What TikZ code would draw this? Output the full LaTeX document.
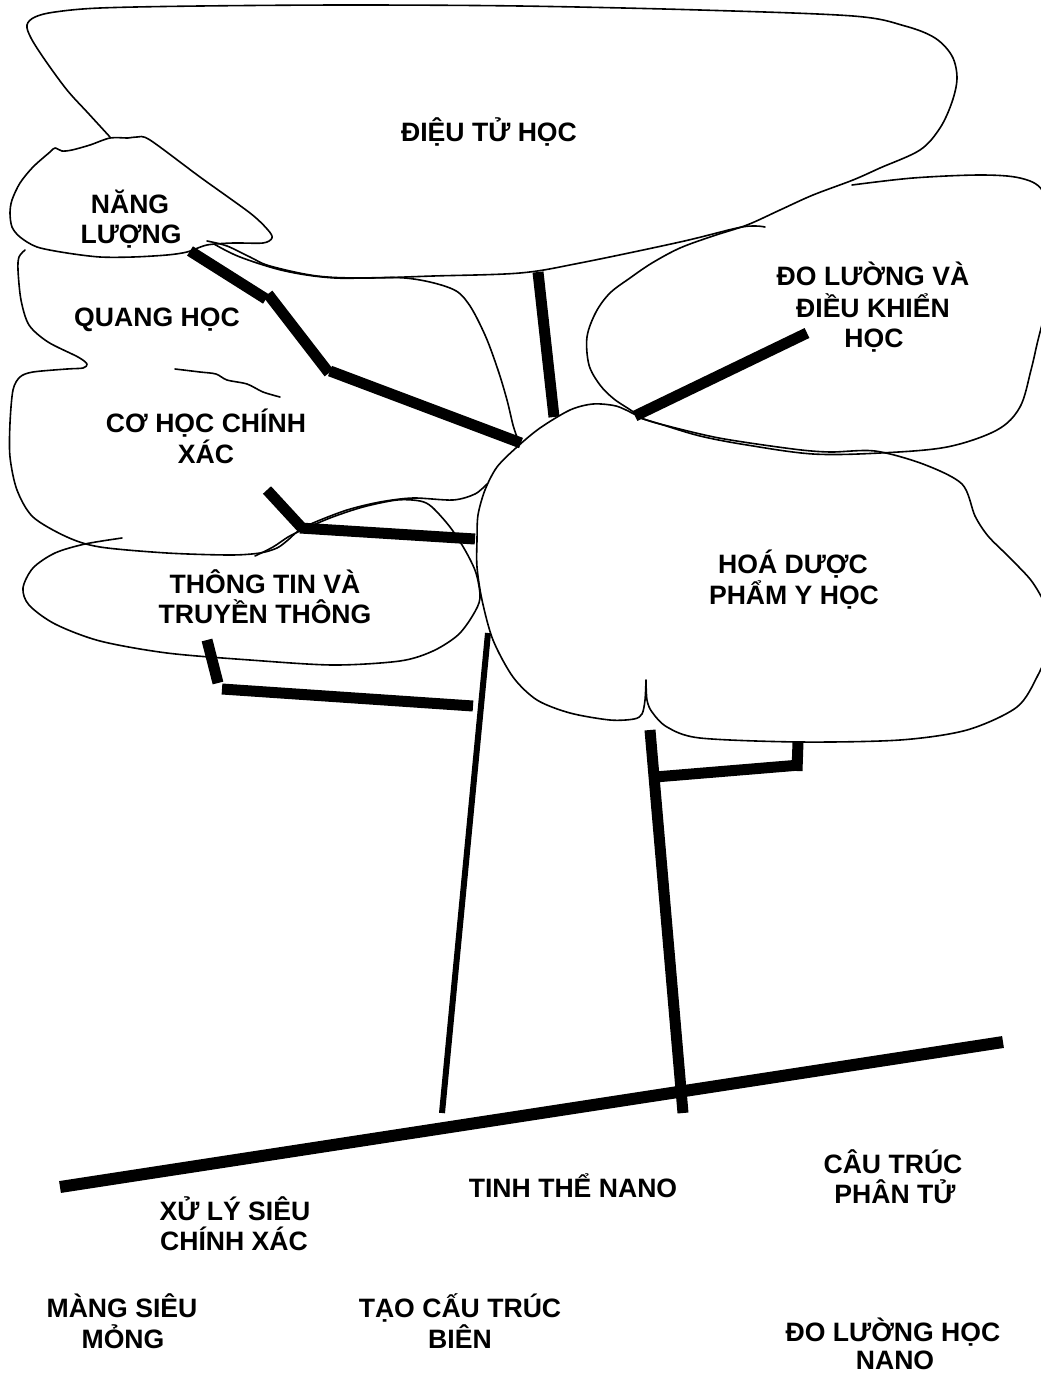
\documentclass[tikz,border=0pt]{standalone}
\usepackage{fontspec}
\setmainfont{Liberation Sans}
\begin{document}
\begin{tikzpicture}[x=1pt,y=-1pt,
  outline/.style={line width=1.6pt, line join=round, line cap=round},
  branch/.style={line width=11pt},
  trunkthin/.style={line width=6pt},
  groundline/.style={line width=12pt},
  lbl/.style={font=\bfseries\fontsize{26.6}{31}\selectfont, inner sep=0pt, anchor=base}]
\useasboundingbox (0,0) rectangle (1041,1374);
\fill[white] (0,0) rectangle (1041,1374);
\clip (0,0) rectangle (1041,1374);

% big cloud (DIEU TU HOC) outline flowing into left edge of DO LUONG cloud
\draw[outline] plot[smooth, tension=0.55] coordinates {(110,137) (88,113) (67,90) (45,60) (31,38) (27,25) (35,17) (55,12) (100,8) (200,6) (350,5) (520,6) (700,10) (853,16) (905,26) (935,38) (952,56) (957,78) (952,102) (940,128) (920,150) (880,168) (853,180) (813,195) (780,210) (747,225) (713,236) (680,248) (652,263) (630,278) (610,293) (596,312) (587,337) (589,365) (600,385) (614,399) (632,411) (640,418)};
% bottom edge of big cloud
\draw[outline] plot[smooth, tension=0.55] coordinates {(207,241) (227,246) (250,257) (270,266) (317,276) (367,278) (433,276) (520,273) (580,263) (680,242) (737,228) (755,226) (765,227)};
% DO LUONG cloud right part
\draw[outline] plot[smooth, tension=0.55] coordinates {(852,185) (913,178) (980,175) (1020,178) (1042,190) (1052,225) (1054,270) (1047,305) (1038,340) (1031,370) (1020,407) (997,430) (947,447) (880,453) (813,454) (747,445) (700,436) (660,424) (640,418)};
% NANG LUONG cloud
\draw[outline] plot[smooth cycle, tension=0.5] coordinates {(10,213) (12,227) (20,237) (37,247) (67,253) (100,257) (133,257) (167,255) (187,252) (207,245) (233,243) (263,243) (272,238) (268,230) (250,213) (200,177) (150,140) (137,137) (128,138) (110,138) (90,145) (72,150) (62,151) (55,148) (50,152) (33,167) (20,183) (12,200)};
% QUANG HOC right edge
\draw[outline] plot[smooth, tension=0.55] coordinates {(214,244) (240,257) (285,271) (335,278) (405,278) (450,288) (468,303) (485,335) (498,370) (507,400) (513,425) (517,437)};
% QUANG HOC left + CO HOC outline
\draw[outline] plot[smooth, tension=0.5] coordinates {(25,250) (19,257) (18,270) (21,300) (29,325) (48,342) (78,357) (87,364) (83,368) (67,369) (33,372) (20,377) (13,390) (10,423) (10,457) (17,490) (33,517) (67,537) (100,547) (167,553) (230,555) (260,553) (277,548) (288,540) (297,532) (313,523) (347,510) (380,502) (413,498) (453,500) (475,494) (487,484)};
% THONG TIN cloud
\draw[outline] plot[smooth, tension=0.5] coordinates {(255,556) (273,547) (288,537) (300,531) (330,518) (363,507) (397,500) (420,501) (432,507) (450,527) (465,550) (476,573) (480,598) (473,615) (458,635) (433,651) (400,661) (333,665) (250,660) (167,653) (100,641) (55,624) (29,605) (23,588) (33,568) (55,553) (85,544) (122,538)};
% stray stroke in CO HOC
\draw[outline] plot[smooth, tension=0.5] coordinates {(175,369) (200,372) (216,374) (227,380) (247,384) (263,392) (280,397)};
% HOA DUOC cloud
\draw[outline] plot[smooth, tension=0.5] coordinates {(646,680) (647,700) (652,712) (667,727) (700,738) (800,742) (900,740) (967,730) (1017,707) (1038,675) (1050,645) (1052,620) (1042,598) (1030,579) (1008,556) (988,536) (975,516) (962,484) (923,464) (875,451) (830,452) (793,449) (719,438) (660,424) (641,418) (634,414) (616,406) (593,404) (570,410) (540,428) (517,447) (497,467) (485,490) (478,515) (477,540) (477,567) (482,600) (493,640) (513,677) (537,700) (570,713) (610,720) (634,719) (642,714) (645,700) (646,680)};

% branch coordinates
\coordinate (a1) at (190,251); \coordinate (a2) at (266,299);
\coordinate (b1) at (268,294); \coordinate (b2) at (329,373);
\coordinate (c1) at (330,371); \coordinate (c2) at (521,443);
\coordinate (d1) at (538,272); \coordinate (d2) at (554,417);
\coordinate (e1) at (635,416); \coordinate (e2) at (807,333);
\coordinate (f1) at (267,490); \coordinate (f2) at (302,528);
\coordinate (g1) at (300,528); \coordinate (g2) at (475,539);
\coordinate (h1) at (207,640); \coordinate (h2) at (218,683);
\coordinate (i1) at (222,689); \coordinate (i2) at (473,706);
\coordinate (tl1) at (488,633); \coordinate (tl2) at (442,1113);
\coordinate (tr1) at (650,730); \coordinate (tr2) at (683,1113);
\coordinate (j1) at (655,777); \coordinate (j2) at (800,765);
\coordinate (k1) at (798,742); \coordinate (k2) at (797,771);
\coordinate (gr1) at (60,1187); \coordinate (gr2) at (1003,1042);

\draw[branch] (a1) -- (a2);
\draw[branch] (b1) -- (b2);
\draw[branch] (c1) -- (c2);
\draw[branch] (d1) -- (d2);
\draw[branch] (e1) -- (e2);
\draw[branch] (f1) -- (f2);
\draw[branch] (g1) -- (g2);
\draw[branch] (h1) -- (h2);
\draw[branch] (i1) -- (i2);
\draw[trunkthin] (tl1) -- (tl2);
\draw[branch] (tr1) -- (tr2);
\draw[branch] (j1) -- (j2);
\draw[branch] (k1) -- (k2);
\draw[groundline] (gr1) -- (gr2);

% labels
\node[lbl] (dieutu) at (489,141) {ĐIỆU TỬ HỌC};
\node[lbl] (nang1) at (130,213) {NĂNG};
\node[lbl] (nang2) at (131,243) {LƯỢNG};
\node[lbl] (quang) at (157,326) {QUANG HỌC};
\node[lbl] (co1) at (206,432) {CƠ HỌC CHÍNH};
\node[lbl] (co2) at (206,463) {XÁC};
\node[lbl] (tt1) at (265,593) {THÔNG TIN VÀ};
\node[lbl] (tt2) at (265,623) {TRUYỀN THÔNG};
\node[lbl] (dl1) at (873,285) {ĐO LƯỜNG VÀ};
\node[lbl] (dl2) at (873,317) {ĐIỀU KHIỂN};
\node[lbl] (dl3) at (874,347) {HỌC};
\node[lbl] (hd1) at (793,573) {HOÁ DƯỢC};
\node[lbl] (hd2) at (794,604) {PHẨM Y HỌC};
\node[lbl] (xl1) at (235,1220) {XỬ LÝ SIÊU};
\node[lbl] (xl2) at (234,1250) {CHÍNH XÁC};
\node[lbl] (tinh) at (573,1197) {TINH THỂ NANO};
\node[lbl] (ct1) at (893,1173) {CÂU TRÚC};
\node[lbl] (ct2) at (895,1203) {PHÂN TỬ};
\node[lbl] (mang1) at (122,1317) {MÀNG SIÊU};
\node[lbl] (mang2) at (123,1348) {MỎNG};
\node[lbl] (tao1) at (460,1317) {TẠO CẤU TRÚC};
\node[lbl] (tao2) at (460,1348) {BIÊN};
\node[lbl] (dlh1) at (893,1341) {ĐO LƯỜNG HỌC};
\node[lbl] (dlh2) at (895,1369) {NANO};
\end{tikzpicture}
\end{document}
